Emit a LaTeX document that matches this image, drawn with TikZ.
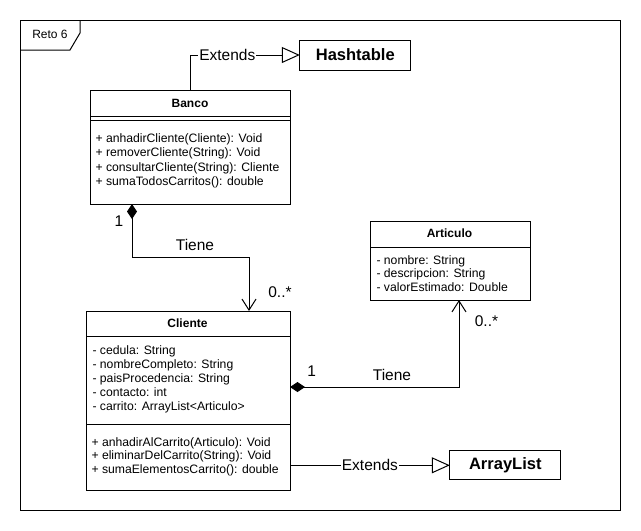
\documentclass[tikz,border=0pt]{standalone}
\usepackage{fontspec}
\setmainfont{Liberation Sans}
\usetikzlibrary{arrows.meta}

\begin{document}
\begin{tikzpicture}[x=1pt, y=-1pt, line width=1pt,
	box/.style={draw, rectangle, inner sep=0pt, outer sep=0pt},
	ctitle/.style={anchor=base, inner sep=0pt, font=\bfseries\fontsize{12}{14}\selectfont},
	member/.style={anchor=base west, inner sep=0pt, font=\fontsize{12.2}{14}\selectfont},
	lbl/.style={anchor=base, inner sep=0pt, font=\fontsize{15.5}{18}\selectfont},
	extlbl/.style={fill=white, inner sep=1pt, font=\fontsize{15.5}{18}\selectfont},
	inherit/.style={-{Triangle[open, length=18pt, width=16pt, fill=white]}},
	owns/.style={{Diamond[length=15pt, width=10pt]}-{Straight Barb[length=11pt, width=14pt]}}]

	\useasboundingbox (0,0) rectangle (641,531);

%frame
	\node[box, minimum width=600pt, minimum height=490pt] (frame) at (320,265) {};
	\draw (frame.north west) ++(0,30) -- ++(50,0) -- ++(10,-17) -- ++(0,-13);
	\node[ctitle, font=\fontsize{12}{14}\selectfont] (reto) at (50,38.5) {Reto 6};

%classes
	\node[box, minimum width=200pt, minimum height=114pt] (banco) at (190,147) {};
	\node[box, minimum width=204pt, minimum height=179pt] (cliente) at (188,400.5) {};
	\node[box, minimum width=160pt, minimum height=79pt] (articulo) at (450.5,260.5) {};
	\node[box, minimum width=111pt, minimum height=30pt, font=\bfseries\fontsize{16.5}{18}\selectfont] (hashtable) at (355.3,55) {Hashtable};
	\node[box, minimum width=111pt, minimum height=29pt, font=\bfseries\fontsize{16.5}{18}\selectfont] (arraylist) at (505.3,465.3) {ArrayList};

	\node[ctitle] (bancoT) at (190,107.5) {Banco};
	\node[ctitle] (clienteT) at (187.5,327.7) {Cliente};
	\node[ctitle] (articuloT) at (449.5,237.3) {Articulo};

	\draw ([yshift=-26pt]banco.north west) -- ([yshift=-26pt]banco.north east);
	\draw ([yshift=-30pt]banco.north west) -- ([yshift=-30pt]banco.north east);
	\draw ([yshift=-25pt]cliente.north west) -- ([yshift=-25pt]cliente.north east);
	\draw ([yshift=-113pt]cliente.north west) -- ([yshift=-113pt]cliente.north east);
	\draw ([yshift=-26pt]articulo.north west) -- ([yshift=-26pt]articulo.north east);

%members
	\foreach \yy/\txt [count=\i] in {142/{+ anhadirCliente(Cliente): Void}, 156.5/{+ removerCliente(String): Void},
		171/{+ consultarCliente(String): Cliente}, 185/{+ sumaTodosCarritos(): double}} {
		\node[member] (bm\i) at (95,\yy) {\txt};
	}
	\foreach \yy/\txt [count=\i] in {354/{- cedula: String}, 368/{- nombreCompleto: String}, 382/{- paisProcedencia: String},
		396/{- contacto: int}, 410/{- carrito: ArrayList<Articulo>}} {
		\node[member] (ca\i) at (92,\yy) {\txt};
	}
	\foreach \yy/\txt [count=\i] in {446/{+ anhadirAlCarrito(Articulo): Void}, 459.5/{+ eliminarDelCarrito(String): Void},
		473/{+ sumaElementosCarrito(): double}} {
		\node[member] (cm\i) at (91,\yy) {\txt};
	}
	\foreach \yy/\txt [count=\i] in {264/{- nombre: String}, 277.5/{- descripcion: String}, 291.5/{- valorEstimado: Double}} {
		\node[member] (aa\i) at (376,\yy) {\txt};
	}

%relations
	\draw[inherit] (banco.north) |- node[extlbl, pos=0.67] (ext1) {Extends} (hashtable.west);
	\draw[inherit] (cliente.east |- arraylist.west) -- node[extlbl] (ext2) {Extends} (arraylist.west);

	\coordinate (bancoS) at ([xshift=42pt]banco.south west);
	\coordinate (clienteN) at ([xshift=163pt]cliente.north west);
	\draw[owns] (bancoS) -- ++(0,53) -| (clienteN);
	\node[lbl] (one1) at (119,226) {1};
	\node[lbl] (tiene1) at (195,250.7) {Tiene};
	\node[lbl] (many1) at (280,297.3) {0..*};

	\coordinate (clienteE) at ([yshift=13.5pt]cliente.east);
	\coordinate (articuloS) at ([xshift=8.5pt]articulo.south);
	\draw[owns] (clienteE) -| (articuloS);
	\node[lbl] (one2) at (311.7,376.7) {1};
	\node[lbl] (tiene2) at (392,380) {Tiene};
	\node[lbl] (many2) at (486.5,326) {0..*};

\end{tikzpicture}
\end{document}
